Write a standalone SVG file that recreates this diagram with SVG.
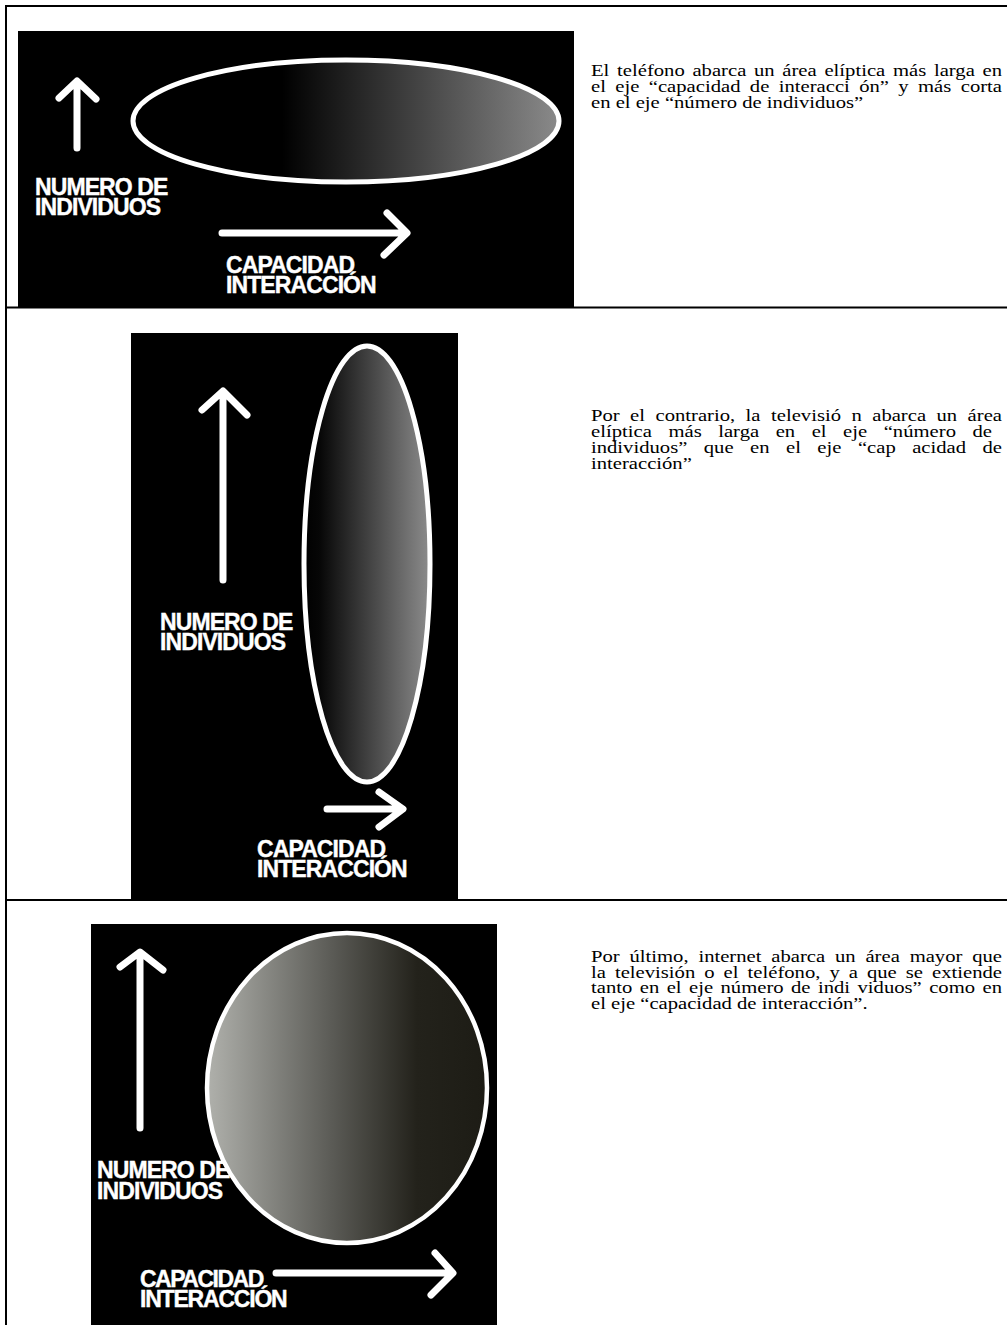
<svg xmlns="http://www.w3.org/2000/svg" width="1007" height="1325" viewBox="0 0 1007 1325">
<style>
.rule{stroke:#000;stroke-width:2;fill:none}
.panel{fill:#000}
.arrow{stroke:#fff;stroke-width:7;fill:none;stroke-linecap:round;stroke-linejoin:round}
.lbl{font-family:"Liberation Sans",Arial,sans-serif;font-weight:bold;font-size:23px;letter-spacing:-0.9px;fill:#fff;stroke:#fff;stroke-width:0.4px}
.body{font-family:"Liberation Serif","Times New Roman",serif;font-size:17.5px;fill:#000}
.shape{stroke:#fff;stroke-width:5}
</style>
<defs>
<linearGradient id="gTel" x1="0" y1="0" x2="1" y2="0">
<stop offset="0" stop-color="#000"/>
<stop offset="0.35" stop-color="#000"/>
<stop offset="1" stop-color="#8a8a8a"/>
</linearGradient>
<linearGradient id="gTv" x1="0" y1="0" x2="1" y2="0">
<stop offset="0" stop-color="#000"/>
<stop offset="0.12" stop-color="#060606"/>
<stop offset="1" stop-color="#8c8c8c"/>
</linearGradient>
<linearGradient id="gNet" x1="0" y1="0" x2="1" y2="0">
<stop offset="0" stop-color="#b0b1ac"/>
<stop offset="0.45" stop-color="#5a5a55"/>
<stop offset="0.75" stop-color="#23221b"/>
<stop offset="1" stop-color="#1d1c15"/>
</linearGradient>
</defs>
<rect width="1007" height="1325" fill="#fff"/>
<g id="table">
<line class="rule" x1="6" y1="5" x2="6" y2="1325"/>
<line class="rule" x1="5" y1="6" x2="1007" y2="6"/>
<line class="rule" x1="5" y1="307.5" x2="1007" y2="307.5"/>
<line class="rule" x1="5" y1="900" x2="1007" y2="900"/>
</g>
<g id="panel-telefono">
<rect class="panel" x="18" y="31" width="556" height="277"/>
<ellipse class="shape" cx="346" cy="121" rx="213" ry="61" fill="url(#gTel)"/>
<path class="arrow" d="M77 148 V82 M59 98 L77 81 L96 99"/>
<path class="arrow" d="M222 233 H406 M387 213 L407 233 L384 255"/>
<text class="lbl" x="35" y="195">NUMERO DE</text>
<text class="lbl" x="35" y="215">INDIVIDUOS</text>
<text class="lbl" x="226" y="273">CAPACIDAD</text>
<text class="lbl" x="226" y="293">INTERACCIÓN</text>
</g>
<g id="panel-television">
<rect class="panel" x="131" y="333" width="327" height="568"/>
<path class="arrow" d="M223 580 V393 M202 410 L223 391 L247 415"/>
<text class="lbl" x="160" y="630">NUMERO DE</text>
<text class="lbl" x="160" y="650">INDIVIDUOS</text>
<ellipse class="shape" cx="367" cy="564" rx="63" ry="218" fill="url(#gTv)"/>
<path class="arrow" d="M327 809 H402 M379 792 L403 809 L379 827"/>
<text class="lbl" x="257" y="857">CAPACIDAD</text>
<text class="lbl" x="257" y="877">INTERACCIÓN</text>
</g>
<g id="panel-internet">
<rect class="panel" x="91" y="924" width="406" height="401"/>
<path class="arrow" d="M140 1128 V954 M120 967 L140 952 L163 970"/>
<text class="lbl" x="97" y="1178">NUMERO DE</text>
<text class="lbl" x="97" y="1199">INDIVIDUOS</text>
<ellipse cx="347" cy="1088" rx="140" ry="155" fill="url(#gNet)" stroke="#fff" stroke-width="4.5"/>
<path class="arrow" d="M276 1273 H452 M435 1253 L453 1273 L431 1295"/>
<text class="lbl" x="140" y="1287" style="letter-spacing:-1.5px">CAPACIDAD</text>
<text class="lbl" x="140" y="1307" style="letter-spacing:-1.2px">INTERACCIÓN</text>
</g>
<g id="text-telefono" class="body">
<text transform="translate(591 76) scale(1.18 1)" word-spacing="2.11" textLength="348.3">El teléfono abarca un área elíptica más larga en</text>
<text transform="translate(591 92) scale(1.18 1)" word-spacing="3.57" textLength="348.3">el eje “capacidad de interacci ón” y más corta</text>
<text transform="translate(591 108) scale(1.18 1)">en el eje “número de individuos”</text>
</g>
<g id="text-television" class="body">
<text transform="translate(591 421) scale(1.18 1)" word-spacing="4.48" textLength="348.3">Por el contrario, la televisió n abarca un área</text>
<text transform="translate(591 437) scale(1.18 1)" word-spacing="9.6" textLength="339.8">elíptica más larga en el eje “número de</text>
<text transform="translate(591 453) scale(1.18 1)" word-spacing="9.56" textLength="348.3">individuos” que en el eje “cap acidad de</text>
<text transform="translate(591 469) scale(1.18 1)">interacción”</text>
</g>
<g id="text-internet" class="body">
<text transform="translate(591 962) scale(1.18 1)" word-spacing="3.93" textLength="348.3">Por último, internet abarca un área mayor que</text>
<text transform="translate(591 977.5) scale(1.18 1)" word-spacing="3.28" textLength="348.3">la televisión o el teléfono, y a que se extiende</text>
<text transform="translate(591 993) scale(1.18 1)" word-spacing="1.92" textLength="348.3">tanto en el eje número de indi viduos” como en</text>
<text transform="translate(591 1008.5) scale(1.18 1)">el eje “capacidad de interacción”.</text>
</g>
</svg>
